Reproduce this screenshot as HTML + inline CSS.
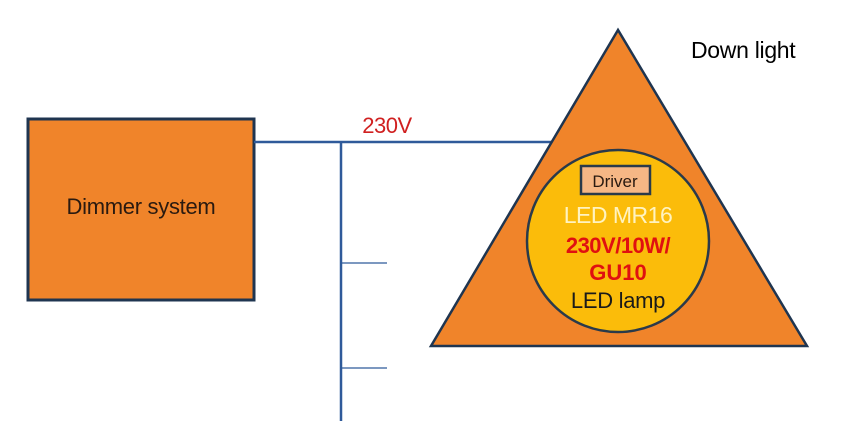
<!DOCTYPE html>
<html><head><style>html,body{margin:0;padding:0;background:#fff;}svg{display:block}</style></head>
<body>
<svg width="843" height="434" viewBox="0 0 843 434" xmlns="http://www.w3.org/2000/svg" font-family="Liberation Sans, sans-serif">
<rect x="28" y="119" width="226" height="181" fill="#f0842a" stroke="#1f3550" stroke-width="3"/>
<text x="141" y="214" font-size="22" text-anchor="middle" fill="#2a1a10" letter-spacing="-0.3">Dimmer system</text>
<line x1="254" y1="142" x2="552" y2="142" stroke="#2f5a9a" stroke-width="2.5"/>
<line x1="341" y1="142" x2="341" y2="421" stroke="#2f5a9a" stroke-width="2.5"/>
<line x1="341" y1="263" x2="387" y2="263" stroke="#2f5a9a" stroke-width="1.2"/>
<line x1="341" y1="368" x2="387" y2="368" stroke="#2f5a9a" stroke-width="1.2"/>
<text x="387" y="133" font-size="22" text-anchor="middle" fill="#d02020" letter-spacing="-0.5">230V</text>
<polygon points="618,30 431,346 807,346" fill="#f0842a" stroke="#1f3550" stroke-width="2.5" stroke-linejoin="miter"/>
<circle cx="618" cy="241" r="91" fill="#fbbc0a" stroke="#2a3a4a" stroke-width="2.5"/>
<rect x="581" y="166" width="69" height="28" fill="#f6b785" stroke="#2a3a4a" stroke-width="2.5"/>
<text x="615" y="187" font-size="17" text-anchor="middle" fill="#2a1a10">Driver</text>
<text x="618" y="223" font-size="23" text-anchor="middle" fill="#fff3c0" letter-spacing="-0.5">LED MR16</text>
<text x="618" y="253" font-size="22" font-weight="bold" text-anchor="middle" fill="#e01010" letter-spacing="-0.5">230V/10W/</text>
<text x="618" y="280" font-size="22" font-weight="bold" text-anchor="middle" fill="#e01010">GU10</text>
<text x="618" y="308" font-size="22" text-anchor="middle" fill="#1a1a1a" letter-spacing="-0.3">LED lamp</text>
<text x="691" y="58" font-size="23" fill="#000" letter-spacing="-0.3">Down light</text>
</svg>
</body></html>
